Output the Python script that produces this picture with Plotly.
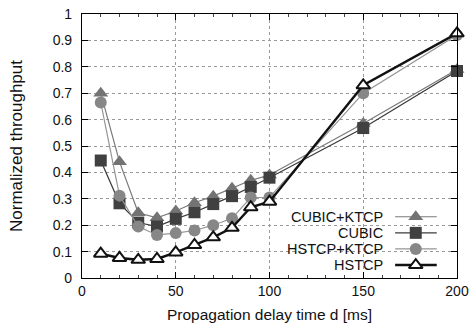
import plotly.graph_objects as go

delay = [10, 20, 30, 40, 50, 60, 70, 80, 90, 100, 150, 200]
cubic_ktcp = [0.70, 0.44, 0.247, 0.228, 0.254, 0.285, 0.31, 0.34, 0.37, 0.39, 0.585, 0.79]
cubic = [0.445, 0.283, 0.21, 0.195, 0.224, 0.249, 0.28, 0.31, 0.345, 0.38, 0.568, 0.784]
hstcp_ktcp = [0.665, 0.312, 0.195, 0.163, 0.17, 0.18, 0.20, 0.226, 0.305, 0.305, 0.70, 0.92]
hstcp = [0.092, 0.076, 0.069, 0.072, 0.097, 0.125, 0.154, 0.19, 0.268, 0.289, 0.73, 0.927]

series_names = ["CUBIC+KTCP", "CUBIC", "HSTCP+KTCP", "HSTCP"]
series_values = [cubic_ktcp, cubic, hstcp_ktcp, hstcp]

styles = [
    dict(line=dict(color="#7a7a7a", width=1.2),
         marker=dict(symbol="triangle-up", size=13, color="#737373", line=dict(width=0))),
    dict(line=dict(color="#3a3a3a", width=1.2),
         marker=dict(symbol="square", size=12, color="#404040", line=dict(width=0))),
    dict(line=dict(color="#959595", width=1.2),
         marker=dict(symbol="circle", size=12, color="#878787", line=dict(width=0))),
    dict(line=dict(color="#111111", width=2.4),
         marker=dict(symbol="triangle-up", size=12, color="white", line=dict(color="#111111", width=2))),
]

fig = go.Figure()
for name, vals, st in zip(series_names, series_values, styles):
    fig.add_trace(go.Scatter(x=delay, y=vals, mode="lines+markers", name=name,
                             line=st["line"], marker=st["marker"], showlegend=False, cliponaxis=False))

# custom legend (text left of sample, as in the reference)
leg_rows = [0.232, 0.171, 0.110, 0.049]
leg_x0, leg_x1, leg_xm, leg_txt = 0.835, 0.946, 0.89, 0.806
annotations = []
for name, st, ry in zip(series_names, styles, leg_rows):
    fig.add_trace(go.Scatter(x=[leg_x0, leg_x1], y=[ry, ry], mode="lines", line=st["line"],
                             xaxis="x2", yaxis="y2", showlegend=False, hoverinfo="skip"))
    fig.add_trace(go.Scatter(x=[leg_xm], y=[ry], mode="markers", marker=st["marker"],
                             xaxis="x2", yaxis="y2", showlegend=False, hoverinfo="skip"))
    annotations.append(dict(x=leg_txt, y=ry, xref="paper", yref="paper", text=name,
                            showarrow=False, xanchor="right", yanchor="middle", borderpad=0,
                            font=dict(size=14.5, color="#111111")))

fig.update_layout(
    template="none",
    width=473, height=325,
    margin=dict(l=82, r=16, t=14, b=47, autoexpand=False),
    paper_bgcolor="white", plot_bgcolor="white",
    font=dict(family="Liberation Sans, Arial, sans-serif", color="#111111"),
    annotations=annotations,
    xaxis=dict(range=[0, 200], dtick=50, tick0=0, showgrid=True, gridcolor="#9a9a9a",
               griddash="dot", gridwidth=1, zeroline=False, showline=True, linecolor="black",
               linewidth=1.2, mirror="ticks", ticks="inside", ticklen=6, tickcolor="black",
               automargin=False,
               minor=dict(dtick=10, ticks="inside", ticklen=3, tickcolor="#444", showgrid=False),
               tickfont=dict(size=14), title=dict(text="Propagation delay time d [ms]",
                                                  font=dict(size=15.5), standoff=11)),
    yaxis=dict(range=[0, 1], dtick=0.1, tick0=0, showgrid=True, gridcolor="#9a9a9a",
               griddash="dot", gridwidth=1, zeroline=False, showline=True, linecolor="black",
               linewidth=1.2, mirror="ticks", ticks="inside", ticklen=6, tickcolor="black",
               automargin=False, tickfont=dict(size=14), ticklabelstandoff=6,
               title=dict(text="Normalized throughput", font=dict(size=17), standoff=25)),
    xaxis2=dict(overlaying="x", range=[0, 1], visible=False, fixedrange=True),
    yaxis2=dict(overlaying="y", range=[0, 1], visible=False, fixedrange=True),
)

fig.write_html("out.html")
